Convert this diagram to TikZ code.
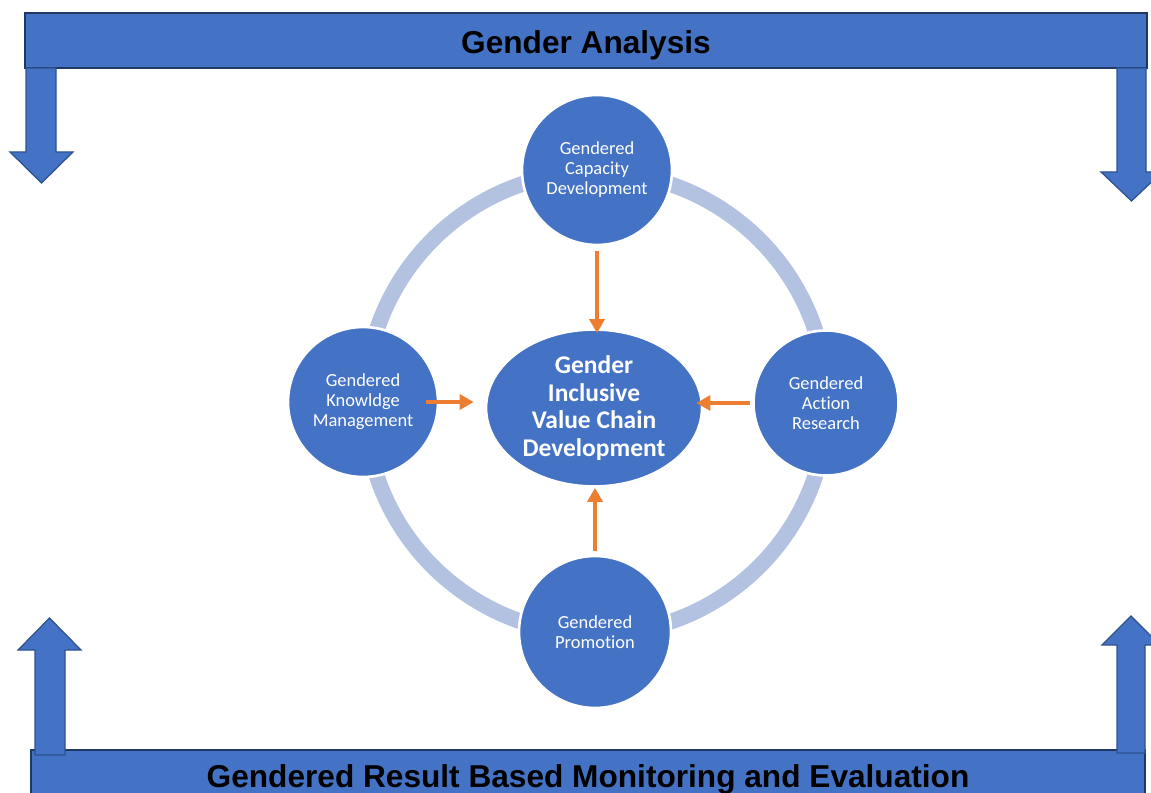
\documentclass[tikz,border=0pt]{standalone}
\usepackage{fontspec}
\setmainfont{Carlito}[Ligatures=NoCommon]
\newfontfamily\barfont{Liberation Sans}
\usetikzlibrary{arrows.meta,shapes.geometric}
\definecolor{BoxClr}{HTML}{4472C4}
\definecolor{EdgeClr}{HTML}{2F528F}
\definecolor{BarEdge}{HTML}{203864}
\definecolor{RingClr}{HTML}{B4C2E2}
\definecolor{FlowClr}{HTML}{ED7D31}

\tikzset{
  bar/.style={draw=BarEdge,line width=1.2pt,fill=BoxClr,inner sep=0pt,text depth=0pt,
    text=black,font=\barfont\bfseries\fontsize{18}{20}\selectfont},
  blockarrow/.style={draw=EdgeClr,line width=0.7pt,fill=BoxClr,line join=miter},
  topic/.style={circle,fill=BoxClr,draw=white,line width=1.5pt,inner sep=0pt,
    minimum size=3cm,text=white,align=center,font=\fontsize{10.5}{11.4}\selectfont},
  hub/.style={ellipse,fill=BoxClr,draw=white,line width=1.5pt,inner sep=0pt,
    minimum width=4.32cm,minimum height=3.14cm,text=white,align=center,
    font=\bfseries\fontsize{14.5}{15.6}\selectfont},
  ring/.style={draw=RingClr,line width=9pt},
  flow/.style={draw=FlowClr,line width=2.7pt,-{Triangle[length=8pt,width=8.5pt]}}
}

\begin{document}
\begin{tikzpicture}[x=0.02cm,y=-0.02cm]
\useasboundingbox (0,0) rectangle (1151,793);

\node[bar,minimum width=22.44cm,minimum height=1.1cm,text height=14.6pt] (analysis) at (586,40.5) {Gender Analysis};
\node[bar,minimum width=22.28cm,minimum height=1.08cm,text height=11.8pt] (monitoring) at (588,777) {Gendered Result Based Monitoring and Evaluation};

\draw[blockarrow] (26,68) -- (56,68) -- (56,152) -- (73,152) -- (41.5,183) -- (10,152) -- (26,152) -- cycle;
\draw[blockarrow] (1117,68) -- (1146,68) -- (1146,172) -- (1162,172) -- (1131.5,201) -- (1101,172) -- (1117,172) -- cycle;
\draw[blockarrow] (35,755) -- (65,755) -- (65,650) -- (81,650) -- (49.5,618) -- (18,650) -- (35,650) -- cycle;
\draw[blockarrow] (1117,753) -- (1145,753) -- (1145,645) -- (1160,645) -- (1131,616) -- (1102,645) -- (1117,645) -- cycle;

\coordinate (middle) at (596,403);
\draw[ring] (middle) circle[radius=231];

\node[topic] (capacity) at (597,170) {Gendered\\Capacity\\Development};
\node[topic] (knowledge) at (363,402) {Gendered\\Knowldge\\Management};
\node[topic,minimum size=2.9cm] (research) at (826,403) {Gendered\\Action\\Research};
\node[topic,minimum size=3.04cm] (promotion) at (595,632) {Gendered\\Promotion};
\node[hub] (chain) at (594,408) {Gender\\Inclusive\\Value Chain\\Development};

\draw[flow,shorten <=0.1cm,shorten >=-0.1cm] (capacity) -- (capacity |- chain.north);
\draw[flow,shorten <=-0.26cm,shorten >=0.22cm] (knowledge.east) -- (knowledge.east -| chain.west);
\draw[flow,shorten <=0.04cm,shorten >=-0.14cm] (research.west) -- (research.west -| chain.east);
\draw[flow,shorten <=0.08cm] (promotion) -- (promotion |- chain.south);

\end{tikzpicture}
\end{document}
